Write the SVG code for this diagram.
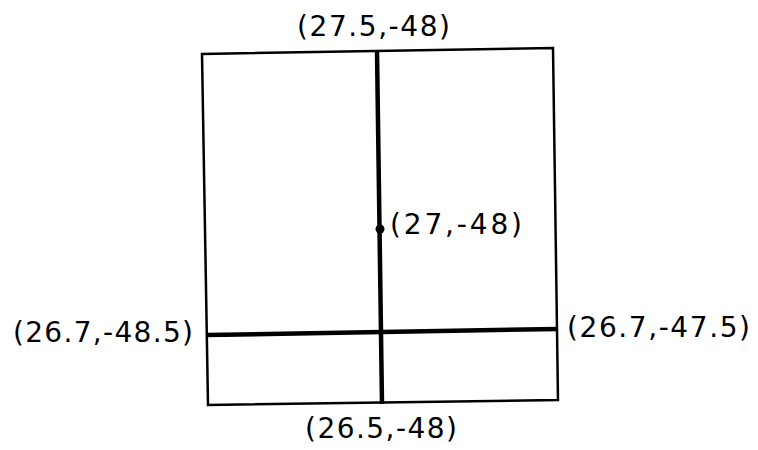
<svg xmlns="http://www.w3.org/2000/svg" width="758" height="450" viewBox="0 0 758 450">
<style>
.frame{fill:none;stroke:#000;stroke-width:2.5;stroke-linejoin:miter}
.thick{stroke:#000;stroke-width:4.5;stroke-linecap:butt}
.lbl{font-family:"DejaVu Sans","Liberation Sans",sans-serif;font-size:28px;fill:#000}
</style>
<rect width="758" height="450" fill="#fff"/>
<g id="frame">
<polygon class="frame" points="202,54 553,48 558,400 208,405"/>
</g>
<g id="connectors">
<line class="thick" x1="377" y1="51" x2="382" y2="404"/>
<line class="thick" x1="207" y1="335" x2="558" y2="329"/>
</g>
<g id="point-center">
<circle cx="380" cy="229" r="4.5" fill="#000"/>
<text class="lbl" x="390" y="234" textLength="132" lengthAdjust="spacing">(27,-48)</text>
</g>
<g id="label-top">
<text class="lbl" x="297" y="36" textLength="153" lengthAdjust="spacing">(27.5,-48)</text>
</g>
<g id="label-left">
<text class="lbl" x="13" y="342" textLength="180" lengthAdjust="spacing">(26.7,-48.5)</text>
</g>
<g id="label-right">
<text class="lbl" x="567" y="337" textLength="183" lengthAdjust="spacing">(26.7,-47.5)</text>
</g>
<g id="label-bottom">
<text class="lbl" x="305" y="438" textLength="152" lengthAdjust="spacing">(26.5,-48)</text>
</g>
</svg>
